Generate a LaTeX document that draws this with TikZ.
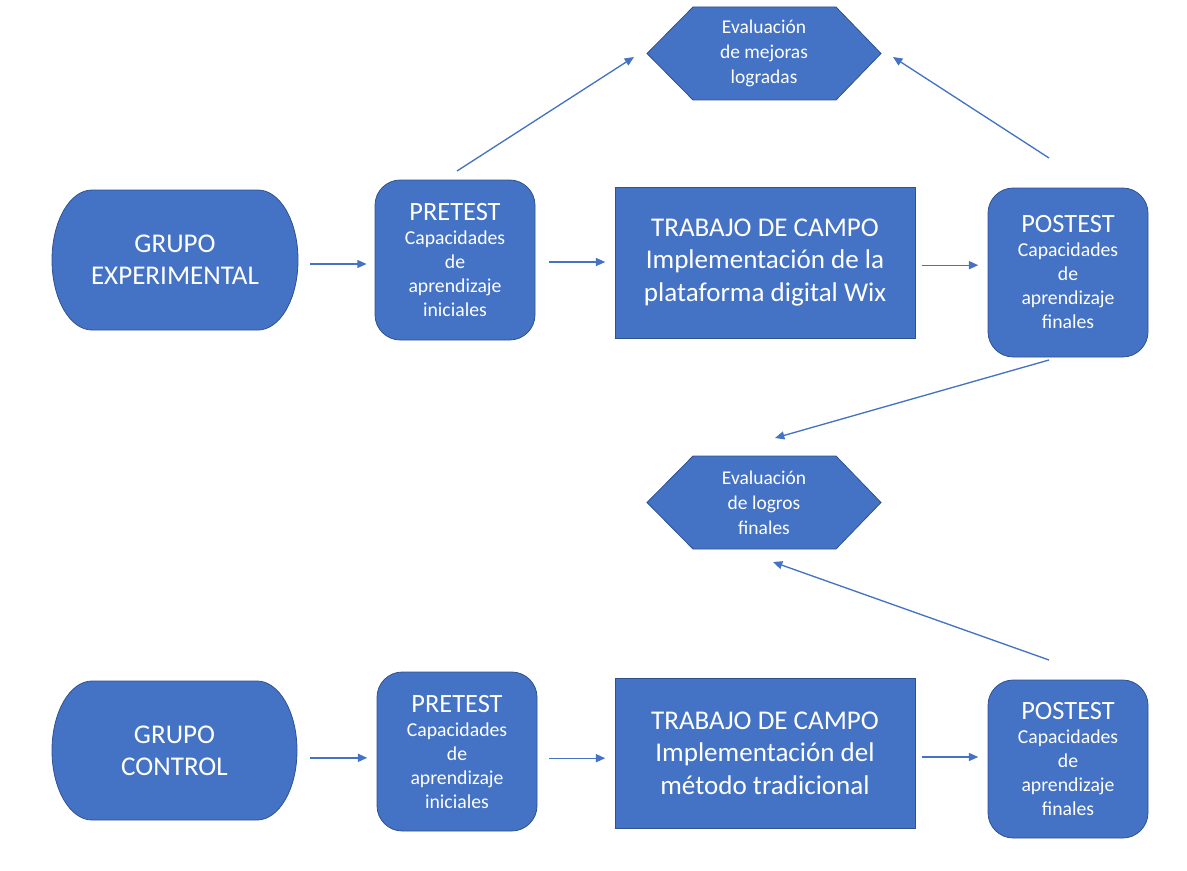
\documentclass[tikz,border=0pt]{standalone}
\usepackage{fontspec}
\setmainfont{Carlito}
\usetikzlibrary{arrows.meta}
\definecolor{ofblue}{HTML}{4472C4}
\definecolor{ofedge}{HTML}{2F528F}
\tikzset{
  shapefill/.style={fill=ofblue, draw=ofedge, line width=0.6pt},
  bigtext/.style={text=white, align=center, font=\fontsize{20.3}{24.3}\selectfont},
  boxnode/.style={shapefill, bigtext, inner sep=0pt},
  roundnode/.style={shapefill, text=white, align=center, inner sep=0pt, rounded corners=19pt, minimum width=120pt, font=\fontsize{14.8}{18}\selectfont},
  hextext/.style={text=white, align=center, inner sep=0pt, font=\fontsize{14.6}{18.7}\selectfont},
  arr/.style={draw=ofblue, line width=1pt, -{Triangle[length=7pt,width=6pt]}},
}
\newcommand{\ttl}[1]{{\fontsize{19.8}{18}\selectfont #1}}
\begin{document}
\begin{tikzpicture}[x=0.75pt,y=-0.75pt]
\useasboundingbox (0,0) rectangle (1187,870);
% terminators
\path[shapefill] (92,190) -- (258,190) .. controls (280,190) and (298,221) .. (298,260) .. controls (298,299) and (280,330) .. (258,330) -- (92,330) .. controls (70,330) and (52,299) .. (52,260) .. controls (52,221) and (70,190) .. (92,190) -- cycle;
\node[bigtext] (g1) at (175,260) {GRUPO\\EXPERIMENTAL};
\path[shapefill] (92,681) -- (257,681) .. controls (279,681) and (297,712) .. (297,750.5) .. controls (297,789) and (279,820) .. (257,820) -- (92,820) .. controls (70,820) and (52,789) .. (52,750.5) .. controls (52,712) and (70,681) .. (92,681) -- cycle;
\node[bigtext] (g2) at (174.5,750.5) {GRUPO\\CONTROL};
% hexagons
\path[shapefill] (647,53.5) -- (693,7) -- (836,7) -- (881,53.5) -- (836,100) -- (693,100) -- cycle;
\node[hextext] (h1) at (764,53.5) {Evaluación\\de mejoras\\logradas};
\path[shapefill] (647,502.5) -- (693,456) -- (836,456) -- (881,502.5) -- (836,549) -- (693,549) -- cycle;
\node[hextext] (h2) at (764,502.5) {Evaluación\\de logros\\finales};
% row 1
\node[roundnode, minimum height=120pt] (p1) at (455,260) {\ttl{PRETEST}\\Capacidades\\de\\aprendizaje\\iniciales};
\node[boxnode, minimum width=225pt, minimum height=113.25pt] (t1) at (765,262.5) {TRABAJO DE CAMPO\\Implementación de la\\plataforma digital Wix};
\node[roundnode, minimum height=126.75pt] (q1) at (1068,272.5) {\ttl{POSTEST}\\Capacidades\\de\\aprendizaje\\finales};
% row 2
\node[roundnode, minimum height=119.25pt] (p2) at (457,751.5) {\ttl{PRETEST}\\Capacidades\\de\\aprendizaje\\iniciales};
\node[boxnode, minimum width=225pt, minimum height=112.5pt] (t2) at (765,753) {TRABAJO DE CAMPO\\Implementación del\\método tradicional};
\node[roundnode, minimum height=118.5pt] (q2) at (1068,759) {\ttl{POSTEST}\\Capacidades\\de\\aprendizaje\\finales};
% free ends of diagonal connectors
\coordinate (d1s) at (457,171);
\coordinate (d1e) at (634,57);
\coordinate (d2s) at (1049,158);
\coordinate (d2e) at (893,57);
\coordinate (d3s) at (1049,360);
\coordinate (d3e) at (775,438);
\coordinate (d4s) at (1049,660);
\coordinate (d4e) at (773,562);
% horizontal connectors
\draw[arr, shorten <=9pt, shorten >=6pt] ([yshift=-3pt]g1.east -| 298,0) -- ([yshift=-3pt]g1.east -| p1.west);
\draw[arr, shorten <=10pt, shorten >=7pt] ([yshift=-1.5pt]p1.east) -- ([yshift=-1.5pt]p1.east -| t1.west);
\draw[arr, shorten <=5pt, shorten >=7pt] ([yshift=-2pt]t1.east) -- ([yshift=-2pt]t1.east -| q1.west);
\draw[arr, shorten <=10pt, shorten >=7pt] ([yshift=-5.5pt]g2.east -| 297,0) -- ([yshift=-5.5pt]g2.east -| p2.west);
\draw[arr, shorten <=9pt, shorten >=7pt] ([yshift=-5pt]p2.east) -- ([yshift=-5pt]p2.east -| t2.west);
\draw[arr, shorten <=5pt, shorten >=7pt] ([yshift=-3pt]t2.east) -- ([yshift=-3pt]t2.east -| q2.west);
% diagonal connectors
\draw[arr] (d1s) -- (d1e);
\draw[arr] (d2s) -- (d2e);
\draw[arr] (d3s) -- (d3e);
\draw[arr] (d4s) -- (d4e);
\end{tikzpicture}
\end{document}
